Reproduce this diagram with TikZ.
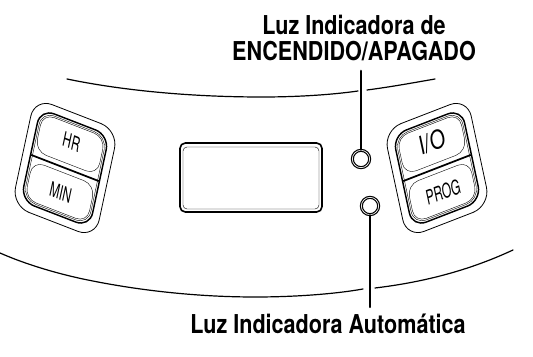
\documentclass[tikz,border=0pt]{standalone}
\usepackage{fontspec}
\setmainfont{TeX Gyre Heros}
\tikzset{
    panel/.style={line width=0.9pt},
    callout/.style={line width=1.6pt},
    lamp/.style={circle, draw, line width=0.9pt, double, double distance=0.5pt, minimum size=13pt, inner sep=0pt},
    calloutlabel/.style={font=\bfseries\fontsize{19.5}{20}\selectfont, align=center, xscale=0.83, inner sep=3pt},
    keylabel/.style={font=\fontsize{15}{15}\selectfont, transform shape, xscale=0.62},
    bigkeylabel/.style={font=\fontsize{19}{19}\selectfont, transform shape, xscale=0.8}
}
% one double key: name, centre, skew entries, top and bottom text
\newcommand{\keypair}[7]{
    \begin{scope}[cm={.93,#3,#4,.98,#2}]
    \draw [line width=0.6pt, rounded corners=14] (-45,-55) rectangle (45,55);
    \draw [line width=1.1pt, rounded corners=11] (-37,-47) rectangle (37,47);
    \draw [line width=0.3pt, rounded corners=10] (-35,-45) rectangle (35,45);
    \draw [line width=0.3pt, rounded corners=9] (-33.5,-43.5) -- (33.5,-43.5) -- (33.5,-5) -- (-33.5,-5) -- cycle;
    \draw [line width=0.3pt, rounded corners=9] (-33.5,5) -- (33.5,5) -- (33.5,43.5) -- (-33.5,43.5) -- cycle;
    \draw [line width=1.3pt] (-36,0) -- (36,0);
    \node [#7] (#1top) at (1,-27) {#5};
    \node [keylabel] (#1bot) at (1,25) {#6};
    \end{scope}
}
\begin{document}
\begin{tikzpicture}[x=0.75pt, y=-0.75pt, line cap=round]

    \useasboundingbox (0,0) rectangle (533,357);

    % panel edges
    \draw [panel] (67,79) .. controls (130,92) and (200,97) .. (262,97) .. controls (295,97) and (330,95) .. (358,91);
    \draw [panel] (367,90) .. controls (390,87) and (412,83) .. (435,79);
    \draw [panel] (0,253) .. controls (25,264) and (55,273) .. (83,279) .. controls (140,291) and (200,297) .. (255,297) .. controls (295,297) and (335,294) .. (363,289);
    \draw [panel] (375,288) .. controls (425,282) and (470,270) .. (513,250);

    % display
    \draw [line width=1.2pt, rounded corners=4] (180,143) rectangle (322,212);
    \draw [line width=0.3pt, rounded corners=3] (183,147) rectangle (319,209);

    % keys
    \keypair{left}{(65,168)}{-.36}{.21}{HR}{MIN}{keylabel}
    \keypair{right}{(437,168)}{.36}{-.21}{I/O}{PROG}{bigkeylabel}

    % lamps and their labels
    \node [lamp] (lampon) at (361,159) {};
    \node [lamp] (lampauto) at (370,206) {};
    \node [calloutlabel] (labelon) at (354,38) {Luz Indicadora de\\ENCENDIDO/APAGADO};
    \node [calloutlabel, anchor=base] (labelauto) at (328,333) {Luz Indicadora Automática};
    \draw [callout] ([yshift=-4pt]labelon.south -| lampon.north) -- (lampon.north);
    \draw [callout] (lampauto.south) -- ([yshift=1.5pt]lampauto.south |- labelauto.north);

\end{tikzpicture}
\end{document}
